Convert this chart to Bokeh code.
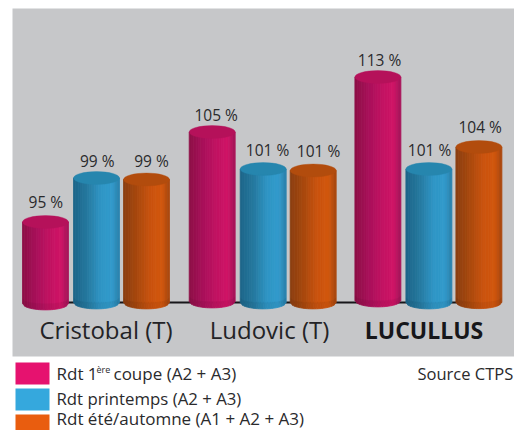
from math import sqrt
from bokeh.plotting import figure
from bokeh.models import Range1d
from bokeh.core.properties import value
from bokeh.embed import file_html
from bokeh.resources import INLINE

groups = ["Cristobal (T)", "Ludovic (T)", "LUCULLUS"]
series = ["Rdt 1", "Rdt printemps (A2 + A3)", "Rdt été/automne (A1 + A2 + A3)"]
value_labels = [["95 %", "99 %", "99 %"], ["105 %", "101 %", "101 %"], ["113 %", "101 %", "104 %"]]
# drawn cylinder heights (the original is not to linear scale)
heights = [[80.5, 124.5, 123], [170.5, 133.5, 132], [225.5, 133.5, 155.5]]
base_shift = [[-1, 0, 0], [1, 0, 0], [2, 0, 0.3]]

W, H = 514, 430
PX0, PY0, BASE = 0, 0, 302
p = figure(width=W, height=H, output_backend="svg", toolbar_location=None,
           x_range=Range1d(PX0, PX0 + W), y_range=Range1d(BASE - PY0 - H, BASE - PY0),
           min_border=0, outline_line_color=None, background_fill_color="white",
           border_fill_color="white")
p.axis.visible = False
p.grid.visible = False

def py(y):
    return BASE - y

p.quad(left=12, right=514, top=py(8), bottom=py(356), fill_color="#c6c7c9", line_color=None)
p.line([60, 480], [0, 0], line_color="#17171a", line_width=2)

group_x = [96, 262.7, 428.4]
offsets = [-51, 0, 50]
RX, RY = 23, 6.4
stops = [
    [(0, "#8c0f45"), (.3, "#a8105a"), (.6, "#c21262"), (.85, "#d01466"), (1, "#a11458")],
    [(0, "#1c6488"), (.3, "#25799f"), (.6, "#2f95c5"), (.85, "#329bcc"), (1, "#2a80aa")],
    [(0, "#8a3e10"), (.3, "#a8480e"), (.6, "#cb530e"), (.85, "#d2570e"), (1, "#a4460f")],
]
top_col = ["#b5115a", "#2686ae", "#b24c0d"]

def hx(c):
    return [int(c[i:i + 2], 16) for i in (1, 3, 5)]

def grad(st, t):
    for (a, ca), (b, cb) in zip(st, st[1:]):
        if t <= b:
            f = (t - a) / (b - a)
            x, y = hx(ca), hx(cb)
            return "#%02x%02x%02x" % tuple(round(x[i] + (y[i] - x[i]) * f) for i in range(3))
    return st[-1][1]

N = 20
xs, ys, cols = [], [], []
cx_list, cy_list, ccol = [], [], []
cres_x, cres_y = [], []
for g, gx in enumerate(group_x):
    for s, off in enumerate(offsets):
        cx = gx + off
        h = heights[g][s]
        b = base_shift[g][s]
        for i in range(N):
            x0 = cx - RX + 2 * RX * i / N
            x1 = cx - RX + 2 * RX * (i + 1) / N
            u0, u1 = (x0 - cx) / RX, (x1 - cx) / RX
            y0 = b - RY * sqrt(max(0, 1 - u0 ** 2))
            y1 = b - RY * sqrt(max(0, 1 - u1 ** 2))
            xs.append([x0, x1, x1, x0])
            ys.append([h, h, y1, y0])
            cols.append(grad(stops[s], (i + .5) / N))
        cx_list.append(cx)
        cy_list.append(h)
        ccol.append(top_col[s])
        steps = [k / 16 for k in range(17)]
        low = [(cx - RX + 2 * RX * t, b - RY * sqrt(max(0, 1 - (2 * t - 1) ** 2))) for t in steps]
        up = [(cx - RX + 2 * RX * t, b + 5 - 5 * sqrt(max(0, 1 - (2 * t - 1) ** 2))) for t in steps]
        cres_x.append([q[0] for q in low] + [q[0] for q in reversed(up)])
        cres_y.append([q[1] for q in low] + [q[1] for q in reversed(up)])

p.patches(xs, ys, fill_color=cols, line_color=cols, line_width=0.8)
p.patches(cres_x, cres_y, fill_color="#000000", fill_alpha=0.05, line_color=None)
p.ellipse(cx_list, cy_list, width=2 * RX, height=2 * RY, fill_color=ccol, line_color=ccol, line_width=0.4)

font = value("Open Sans")

def label(x, y, txt, size, color="#2a2a2c", align="left", style="normal"):
    p.text(x, [py(v) for v in y], text=txt, text_font=font, text_font_size=f"{size}px",
           text_color=color, text_align=align, text_baseline="alphabetic", text_font_style=style,
           y_offset=-0.37 * size)

label_x = [[45.3, 96.7, 151], [215.7, 267, 318], [379, 429, 479.7]]
label_y = [[207, 166.7, 166.7], [120, 155, 156], [65, 155, 132]]
for g in range(3):
    label(label_x[g], label_y[g], value_labels[g], 15.5, align="center")

label([105.5], [338], [groups[0]], 24, "#232326", "center")
label([269], [338], [groups[1]], 24, "#232326", "center")
label([423.5], [338], [groups[2]], 23, "#17171a", "center", "bold")

sw = ["#e6126f", "#35a8dd", "#e95d0f"]
sw_top = [362, 388, 414]
for c, t in zip(sw, sw_top):
    p.quad(left=15, right=49, top=py(t), bottom=py(t + 22), fill_color=c, line_color=None)

label([56], [379], [series[0]], 17)
label([96], [372], ["ère"], 9)
label([113], [379], ["coupe (A2 + A3)"], 17)
label([56], [404], [series[1]], 16.8)
label([56], [424], [series[2]], 17)
label([417], [379], ["Source CTPS"], 16.5)

open("out.html", "w").write(file_html(p, INLINE))
